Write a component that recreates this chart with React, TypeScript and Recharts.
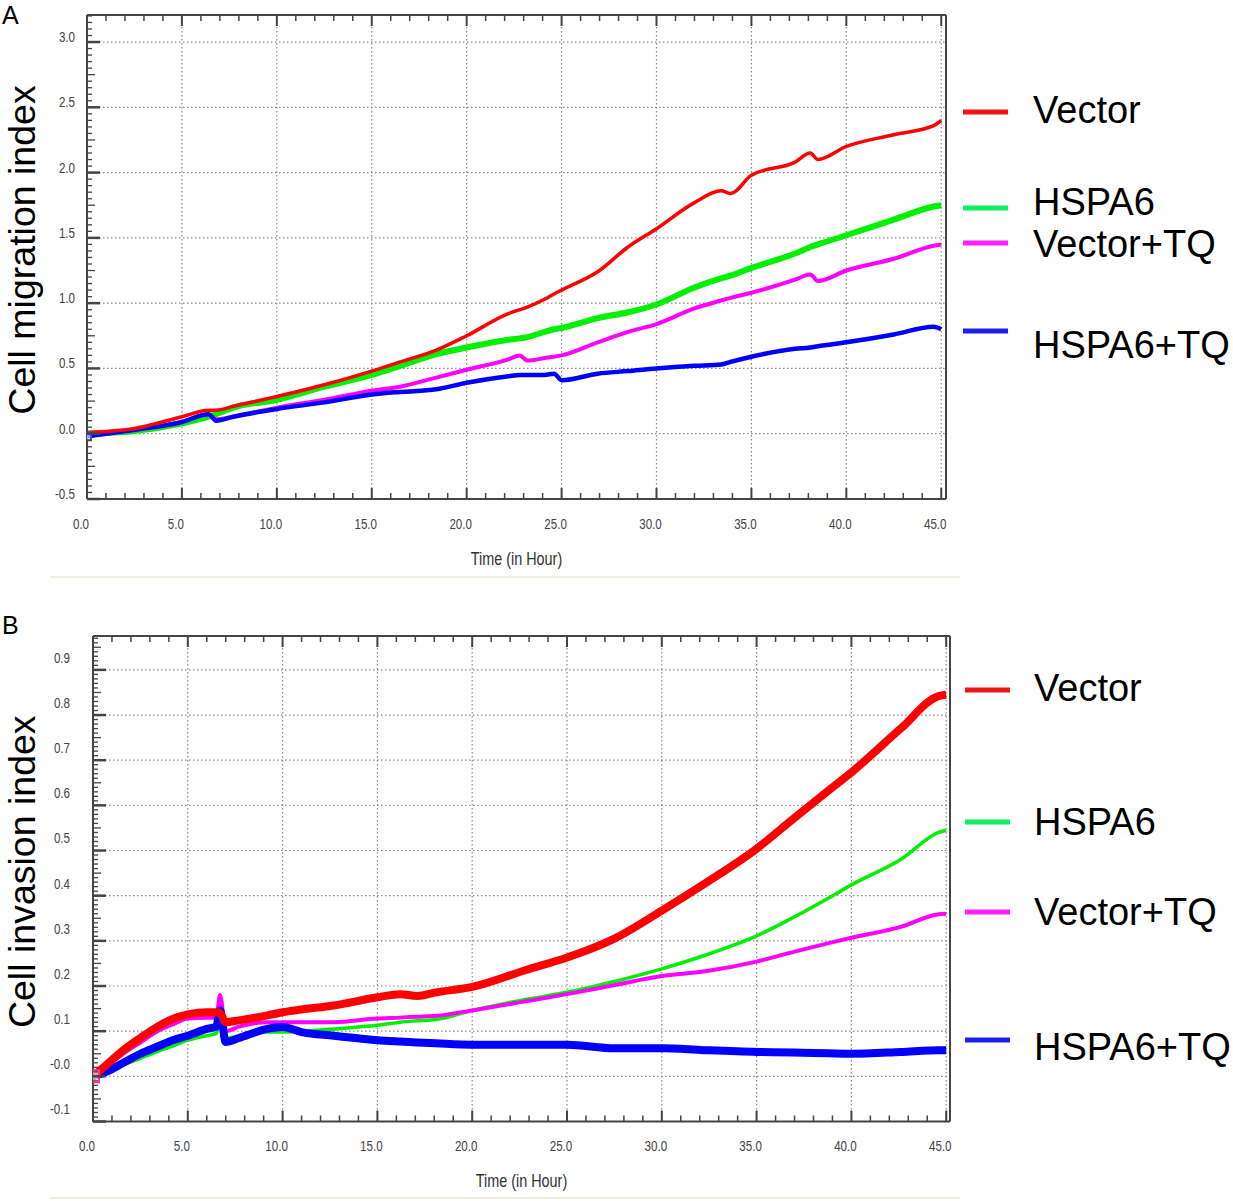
import React from "react";
import { LineChart, Line, XAxis, YAxis, CartesianGrid } from "recharts";

// ---------- Panel A (migration) ----------
const timesA = [0, 2.5, 5, 6.4, 6.8, 7.7, 10, 12.5, 15, 16.5, 18.4, 20, 22.2, 22.8, 23.2, 24.1, 24.6, 25, 26.9, 28.5, 30, 32, 33.4, 33.9, 35, 37.3, 38.1, 38.5, 40, 42.5, 44.6, 45];
const vectorA = [0.01, 0.04, 0.13, 0.18, 0.18, 0.21, 0.285, 0.375, 0.48, 0.55, 0.64, 0.75, 0.92, 0.95, 0.97, 1.03, 1.07, 1.1, 1.24, 1.43, 1.57, 1.77, 1.86, 1.84, 1.98, 2.08, 2.15, 2.1, 2.2, 2.29, 2.36, 2.4];
const hspa6A = [0.0, 0.02, 0.08, 0.13, 0.15, 0.2, 0.26, 0.36, 0.45, 0.52, 0.61, 0.66, 0.72, 0.73, 0.74, 0.78, 0.8, 0.81, 0.885, 0.93, 0.99, 1.12, 1.19, 1.21, 1.27, 1.38, 1.43, 1.45, 1.52, 1.64, 1.74, 1.75];
const vectorTQA = [-0.02, 0.03, 0.09, 0.15, 0.11, 0.13, 0.2, 0.26, 0.33, 0.36, 0.43, 0.49, 0.57, 0.6, 0.56, 0.58, 0.59, 0.6, 0.7, 0.78, 0.84, 0.96, 1.02, 1.04, 1.08, 1.18, 1.22, 1.17, 1.25, 1.34, 1.44, 1.45];
const hspa6TQA = [-0.02, 0.03, 0.09, 0.15, 0.1, 0.13, 0.19, 0.24, 0.3, 0.32, 0.34, 0.39, 0.44, 0.45, 0.45, 0.45, 0.46, 0.41, 0.46, 0.48, 0.5, 0.52, 0.53, 0.55, 0.59, 0.65, 0.66, 0.67, 0.7, 0.76, 0.82, 0.8];

// ---------- Panel B (invasion) ----------
const timesB = [0, 0.7, 1.6, 2.5, 3.4, 4.2, 5, 6, 6.5, 6.7, 7.0, 7.7, 9.2, 10, 11, 12.7, 15, 16.2, 17.1, 18.1, 20, 22.8, 25, 27.5, 30, 32.2, 35, 36.9, 38.8, 40, 42.6, 44.6, 45];
const vectorB = [0.0, 0.025, 0.058, 0.085, 0.11, 0.127, 0.137, 0.142, 0.142, 0.14, 0.12, 0.124, 0.135, 0.142, 0.148, 0.157, 0.175, 0.182, 0.178, 0.186, 0.198, 0.235, 0.263, 0.305, 0.367, 0.425, 0.504, 0.569, 0.633, 0.673, 0.77, 0.842, 0.845];
const hspa6B = [0.0, 0.008, 0.025, 0.04, 0.055, 0.067, 0.08, 0.09, 0.095, 0.12, 0.084, 0.09, 0.098, 0.098, 0.1, 0.105, 0.113, 0.12, 0.123, 0.126, 0.146, 0.17, 0.186, 0.21, 0.238, 0.267, 0.311, 0.351, 0.395, 0.424, 0.48, 0.54, 0.545];
const vectorTQB = [0.0, 0.02, 0.05, 0.075, 0.1, 0.115, 0.128, 0.13, 0.13, 0.18, 0.1, 0.11, 0.12, 0.12, 0.12, 0.12, 0.128, 0.13, 0.132, 0.134, 0.146, 0.166, 0.182, 0.202, 0.222, 0.232, 0.254, 0.275, 0.295, 0.307, 0.331, 0.359, 0.36];
const hspa6TQB = [0.0, 0.01, 0.03, 0.05, 0.066, 0.08, 0.09, 0.105, 0.11, 0.146, 0.076, 0.085, 0.105, 0.109, 0.098, 0.09, 0.08, 0.077, 0.075, 0.073, 0.07, 0.07, 0.07, 0.062, 0.062, 0.058, 0.054, 0.053, 0.051, 0.05, 0.054, 0.058, 0.058];

// ---------- ticks ----------
const xMajor = [0, 5, 10, 15, 20, 25, 30, 35, 40, 45];
const xLabels = ["0.0", "5.0", "10.0", "15.0", "20.0", "25.0", "30.0", "35.0", "40.0", "45.0"];
const xMinor = Array.from({ length: 46 }, (_, i) => i);

const yMajorA = [-0.5, 0, 0.5, 1, 1.5, 2, 2.5, 3];
const yLabelsA = ["-0.5", "0.0", "0.5", "1.0", "1.5", "2.0", "2.5", "3.0"];
const yMinorA = Array.from({ length: 75 }, (_, i) => Math.round((-0.5 + i * 0.05) * 100) / 100);

const yMajorB = [-0.1, 0, 0.1, 0.2, 0.3, 0.4, 0.5, 0.6, 0.7, 0.8, 0.9];
const yLabelsB = ["-0.1", "-0.0", "0.1", "0.2", "0.3", "0.4", "0.5", "0.6", "0.7", "0.8", "0.9"];
const yMinorB = Array.from({ length: 108 }, (_, i) => Math.round((-0.1 + i * 0.01) * 100) / 100);

const seriesNames = ["Vector", "HSPA6", "Vector+TQ", "HSPA6+TQ"];
const seriesColors = ["#ff0000", "#00f000", "#ff00ff", "#0000ff"];
const legendColors = ["#ee1515", "#15ee60", "#ff20ff", "#2020ee"];

const dataA = timesA.map((t, i) => ({ t, vector: vectorA[i], hspa6: hspa6A[i], vectorTQ: vectorTQA[i], hspa6TQ: hspa6TQA[i] }));
const dataB = timesB.map((t, i) => ({ t, vector: vectorB[i], hspa6: hspa6B[i], vectorTQ: vectorTQB[i], hspa6TQ: hspa6TQB[i] }));

const SANS = "'Liberation Sans', Arial, sans-serif";
const AXIS = "#444";

const findIdx = (arr: number[], v: number) => arr.findIndex((m) => Math.abs(m - v) < 1e-7);

const NarrowText = ({ x, y, anchor, size, fill, children }: any) => (
  <text
    transform={`translate(${x},${y}) scale(0.8,1)`}
    x={0}
    y={0}
    textAnchor={anchor}
    dominantBaseline="central"
    fontFamily={SANS}
    fontSize={size}
    fill={fill}
  >
    {children}
  </text>
);

const BottomTick = (props: any) => {
  const { x, y, payload } = props;
  const v = payload.value;
  const idx = findIdx(xMajor, v);
  const major = idx >= 0;
  return (
    <g>
      <line x1={x} x2={x} y1={y} y2={y - (major ? 11 : 6)} stroke={AXIS} strokeWidth={major ? 2 : 1.5} />
      {major && (
        <NarrowText x={x - 6} y={y + 25} anchor="middle" size={14.5} fill="#444">
          {xLabels[idx]}
        </NarrowText>
      )}
    </g>
  );
};

const TopTick = (props: any) => {
  const { x, y, payload } = props;
  const major = findIdx(xMajor, payload.value) >= 0;
  return <line x1={x} x2={x} y1={y} y2={y + (major ? 11 : 6)} stroke={AXIS} strokeWidth={major ? 2 : 1.5} />;
};

const makeLeftTick = (majors: number[], labels: string[], midStep: number, labelGap: number, labelDy: number) => (props: any) => {
  const { x, y, payload } = props;
  const v = payload.value;
  const idx = findIdx(majors, v);
  const major = idx >= 0;
  const mid = !major && Math.abs(v / midStep - Math.round(v / midStep)) < 1e-6;
  const len = major ? 13 : mid ? 8 : 5;
  return (
    <g>
      <line x1={x} x2={x + len} y1={y} y2={y} stroke={AXIS} strokeWidth={major ? 2.5 : 1.3} />
      {major && (
        <NarrowText x={x - labelGap} y={y + labelDy} anchor="end" size={14.5} fill="#444">
          {labels[idx]}
        </NarrowText>
      )}
    </g>
  );
};

const LeftTickA = makeLeftTick(yMajorA, yLabelsA, 0.25, 12, -5);
const LeftTickB = makeLeftTick(yMajorB, yLabelsB, 0.05, 23, -12);

const startMarker = (color: string, size: number) => (props: any) => {
  const { cx, cy, index } = props;
  if (index !== 0 || cx == null) return <g key={`d${index}`} />;
  return <rect key={`d${index}`} x={cx - size / 2} y={cy - size / 2} width={size} height={size} fill="#fff" fillOpacity={0.6} stroke={color} strokeWidth={2} />;
};

const xTitle = (props: any) => {
  const vb = props.viewBox || {};
  return (
    <NarrowText x={vb.x + vb.width / 2} y={vb.y + 59} anchor="middle" size={18} fill="#333">
      Time (in Hour)
    </NarrowText>
  );
};

const yTitle = (text: string) => (props: any) => {
  const vb = props.viewBox || {};
  const bx = 35;
  const cy = vb.y + vb.height / 2 - 7;
  return (
    <text x={bx} y={cy} transform={`rotate(-90 ${bx} ${cy})`} textAnchor="middle" fontFamily={SANS} fontSize={37.5} fill="#000">
      {text}
    </text>
  );
};

type PanelProps = {
  data: any[];
  width: number;
  height: number;
  margin: any;
  yAxisWidth: number;
  xDomain: [number, number];
  yDomain: [number, number];
  yMinor: number[];
  yMajor: number[];
  leftTick: any;
  title: string;
  widths: number[];
  markerColor: string;
  markerSize: number;
};

const keys = ["vector", "hspa6", "vectorTQ", "hspa6TQ"];
const drawOrder = [1, 2, 3, 0];

const Panel = (p: PanelProps) => (
  <LineChart width={p.width} height={p.height} data={p.data} margin={p.margin}>
    <CartesianGrid
      stroke="#8a8a8a"
      strokeDasharray="1.5 2.5"
      strokeWidth={1.2}
      horizontalValues={p.yMajor}
      verticalValues={xMajor}
    />
    <XAxis
      dataKey="t"
      type="number"
      domain={p.xDomain}
      allowDataOverflow
      ticks={xMinor}
      interval={0}
      tickSize={0}
      tickMargin={0}
      tickLine={false}
      tick={BottomTick}
      axisLine={{ stroke: AXIS, strokeWidth: 2 }}
      height={60}
      label={xTitle}
    />
    <XAxis
      xAxisId="top"
      orientation="top"
      dataKey="t"
      type="number"
      domain={p.xDomain}
      allowDataOverflow
      ticks={xMinor}
      interval={0}
      tickSize={0}
      tickMargin={0}
      tickLine={false}
      tick={TopTick}
      axisLine={{ stroke: AXIS, strokeWidth: 2 }}
      height={1}
    />
    <YAxis
      type="number"
      domain={p.yDomain}
      allowDataOverflow
      ticks={p.yMinor}
      interval={0}
      tickSize={0}
      tickMargin={0}
      tickLine={false}
      tick={p.leftTick}
      axisLine={{ stroke: AXIS, strokeWidth: 2 }}
      width={p.yAxisWidth}
      label={yTitle(p.title)}
    />
    <YAxis
      yAxisId="right"
      orientation="right"
      type="number"
      domain={p.yDomain}
      allowDataOverflow
      tick={false}
      tickLine={false}
      axisLine={{ stroke: AXIS, strokeWidth: 2 }}
      width={1}
    />
    {drawOrder.map((i) => (
      <Line
        key={keys[i]}
        dataKey={keys[i]}
        name={seriesNames[i]}
        stroke={seriesColors[i]}
        strokeWidth={p.widths[i]}
        dot={i === 2 ? startMarker(p.markerColor, p.markerSize) : false}
        isAnimationActive={false}
        type="monotone"
      />
    ))}
  </LineChart>
);

const LegendBlock = ({ lineYs, textYs, lineX, textX }: { lineYs: number[]; textYs: number[]; lineX: number; textX: number }) => (
  <svg width={1233} height={1201} style={{ position: "absolute", left: 0, top: 0, pointerEvents: "none" }}>
    {seriesNames.map((n, i) => (
      <g key={n}>
        <line x1={lineX} x2={lineX + 45} y1={lineYs[i]} y2={lineYs[i]} stroke={legendColors[i]} strokeWidth={5} />
        <text x={textX} y={textYs[i]} fontFamily={SANS} fontSize={38} fill="#000">
          {n}
        </text>
      </g>
    ))}
  </svg>
);

export default function App() {
  return (
    <div style={{ position: "absolute", left: 0, top: 0, width: 1233, height: 1201, background: "#fff", overflow: "hidden" }}>
      <div style={{ position: "absolute", left: 0, top: 0 }}>
        <Panel
          data={dataA}
          width={1233}
          height={590}
          margin={{ top: 14, right: 286, bottom: 31, left: 0 }}
          yAxisWidth={87}
          xDomain={[0, 45.25]}
          yDomain={[-0.5, 3.207]}
          yMinor={yMinorA}
          yMajor={yMajorA}
          leftTick={LeftTickA}
          title="Cell migration index"
          widths={[3.5, 6, 4, 4.5]}
          markerColor="#3355ff"
          markerSize={8}
        />
      </div>
      <div style={{ position: "absolute", left: 0, top: 600 }}>
        <Panel
          data={dataB}
          width={1233}
          height={600}
          margin={{ top: 35, right: 282, bottom: 18.5, left: 0 }}
          yAxisWidth={93}
          xDomain={[0, 45.2]}
          yDomain={[-0.1, 0.975]}
          yMinor={yMinorB}
          yMajor={yMajorB}
          leftTick={LeftTickB}
          title="Cell invasion index"
          widths={[8, 3.5, 4, 8]}
          markerColor="#ff3399"
          markerSize={12}
        />
      </div>
      <svg width={1233} height={1201} style={{ position: "absolute", left: 0, top: 0, pointerEvents: "none" }}>
        <text x={2} y={24} fontFamily={SANS} fontSize={25} fill="#000">A</text>
        <text x={2} y={634} fontFamily={SANS} fontSize={25} fill="#000">B</text>
        <line x1={50} x2={960} y1={577} y2={577} stroke="#efefdf" strokeWidth={2} />
        <line x1={50} x2={960} y1={1198} y2={1198} stroke="#efefdf" strokeWidth={2} />
      </svg>
      <LegendBlock lineYs={[112, 208, 243, 331]} textYs={[123, 215, 257, 358]} lineX={963} textX={1033} />
      <LegendBlock lineYs={[690, 822, 912, 1040]} textYs={[701, 835, 925, 1060]} lineX={965} textX={1034} />
    </div>
  );
}
